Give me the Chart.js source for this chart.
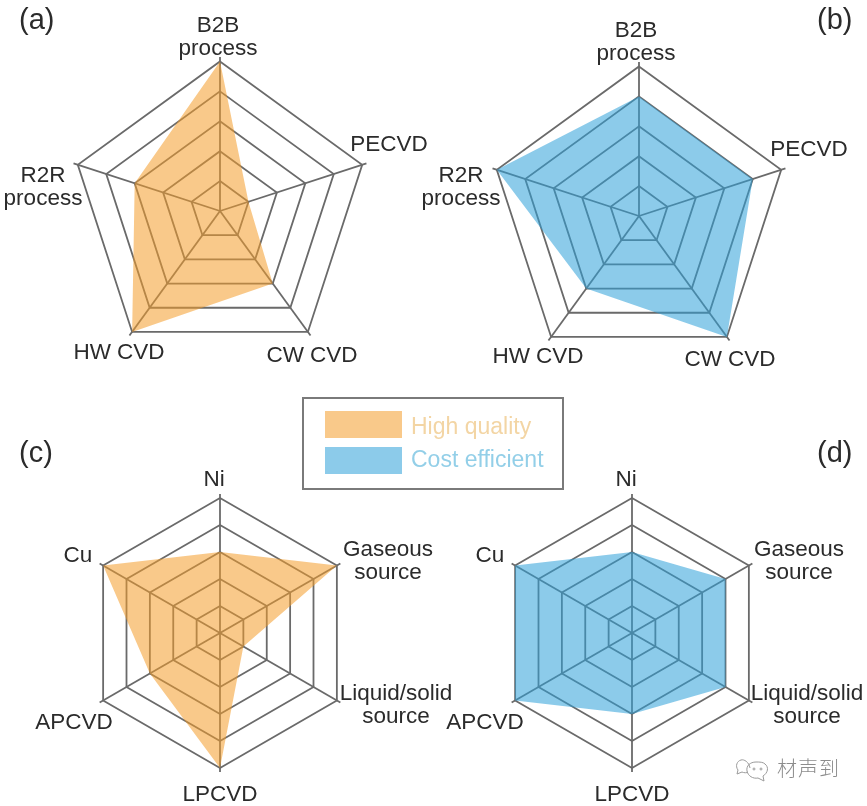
<!DOCTYPE html>
<html lang="en">
<head>
  <meta charset="UTF-8">
  <title>Radar charts</title>
  <script src="https://cdn.jsdelivr.net/npm/chart.js"></script>
  <style>
    html, body { margin: 0; padding: 0; background: #fff; }
    body { position: relative; width: 867px; height: 806px; overflow: hidden; font-family: "Liberation Sans", Arial, sans-serif; }
    canvas { position: absolute; left: 0; top: 0; }
    .letter { position: absolute; font-size: 29px; line-height: 32px; color: #2b2b2b; }
    #legend { position: absolute; left: 302px; top: 397px; width: 258px; height: 89px; border: 2px solid #7a7a7a; }
    .swatch { position: absolute; left: 21px; width: 77px; height: 27px; }
    .entry { position: absolute; left: 107px; font-size: 23px; line-height: 26px; white-space: nowrap; }
    #mark { position: absolute; left: 777px; top: 753px; font-family: "Noto Sans CJK SC"; font-weight: 300; font-size: 20px; line-height: 30px; letter-spacing: 1px; color: #8c8c8c; }
    #markIcon { position: absolute; left: 736px; top: 755px; }
  </style>
</head>
<body>
  <canvas id="chartA" width="867" height="806"></canvas>
  <canvas id="chartB" width="867" height="806"></canvas>
  <canvas id="chartC" width="867" height="806"></canvas>
  <canvas id="chartD" width="867" height="806"></canvas>

  <div class="letter" style="left:19px;top:3px">(a)</div>
  <div class="letter" style="left:817px;top:3px">(b)</div>
  <div class="letter" style="left:19px;top:436px">(c)</div>
  <div class="letter" style="left:817px;top:436px">(d)</div>

  <div id="legend"></div>

  <svg id="markIcon" width="36" height="28" viewBox="0 0 36 28" fill="none" stroke="#9a9a9a" stroke-width="1">
    <path d="M14 13 C13 7 8 4 5 5 C1 6 -1 11 2 15 L1 19 L6 17 C8 18 11 18 12 17"/>
    <path d="M20 7 C14 7 10 11 11 16 C12 21 17 24 22 23 L28 26 L27 21 C32 18 33 12 29 9 C27 7 24 7 20 7 Z"/>
    <circle cx="18" cy="14" r="1"/>
    <circle cx="25" cy="14" r="1"/>
  </svg>
  <div id="mark">材声到</div>

  <script>
    // values, in rings (0 to 5)
    const categoriesAB = [['B2B', 'process'], ['PECVD'], ['CW CVD'], ['HW CVD'], ['R2R', 'process']];
    const categoriesCD = [['Ni'], ['Gaseous', 'source'], ['Liquid/solid', 'source'], ['LPCVD'], ['APCVD'], ['Cu']];
    const valuesA = [5, 1, 3, 5, 3];
    const valuesB = [4, 4, 5, 3, 5];
    const valuesC = [3, 5, 1, 5, 3, 5];
    const valuesD = [3, 4, 4, 3, 5, 5];
    const seriesNames = ['High quality', 'Cost efficient'];

    const orange = 'rgba(244,157,42,0.55)';
    const blue = 'rgba(46,160,217,0.55)';
    const gridColor = '#6a6a6a';
    const textColor = '#2b2b2b';

    // where each category label goes: x centre, y of first baseline
    const labelsPosA = [[218, 32], [389, 151], [312, 362], [119, 359], [43, 182]];
    const labelsPosB = [[636, 37], [809, 156], [730, 366], [538, 363], [461, 182]];
    const labelsPosC = [[214, 486], [388, 556], [396, 700], [220, 801], [74, 729], [78, 562]];
    const labelsPosD = [[626, 486], [799, 556], [807, 700], [632, 801], [485, 729], [490, 562]];

    // the radial scale does not place labels where the figure has them
    const axisLabels = {
      id: 'axisLabels',
      afterDraw(chart, args, opts) {
        const ctx = chart.ctx;
        ctx.save();
        ctx.font = '22.5px "Liberation Sans"';
        ctx.fillStyle = textColor;
        ctx.textAlign = 'center';
        ctx.textBaseline = 'alphabetic';
        chart.data.labels.forEach((lines, i) => {
          lines.forEach((line, j) => {
            ctx.fillText(line, opts.pos[i][0], opts.pos[i][1] + j * 23);
          });
        });
        ctx.restore();
      }
    };

    function makeRadar(id, labels, values, name, color, pos, cx, cy, area) {
      new Chart(document.getElementById(id), {
        type: 'radar',
        data: {
          labels: labels,
          datasets: [{
            label: name,
            data: values,
            backgroundColor: color,
            borderWidth: 0,
            pointRadius: 0,
            fill: true
          }]
        },
        options: {
          responsive: false,
          animation: false,
          layout: {
            padding: { left: cx - area, right: 867 - cx - area, top: cy - area, bottom: 806 - cy - area }
          },
          plugins: {
            legend: { display: false },
            tooltip: { enabled: false },
            axisLabels: { pos: pos }
          },
          scales: {
            r: {
              min: 0,
              max: 5.15, // spokes stick out a little past the outer ring
              ticks: { display: false, stepSize: 1, includeBounds: false },
              pointLabels: { display: false },
              grid: { color: gridColor, lineWidth: 1.8 },
              angleLines: { color: gridColor, lineWidth: 1.8 },
              border: { display: false }
            }
          }
        },
        plugins: [axisLabels]
      });
    }

    makeRadar('chartA', categoriesAB, valuesA, seriesNames[0], orange, labelsPosA, 220, 211.7, 154);
    makeRadar('chartB', categoriesAB, valuesB, seriesNames[1], blue, labelsPosB, 639.3, 216.7, 154);
    makeRadar('chartC', categoriesCD, valuesC, seriesNames[0], orange, labelsPosC, 220.7, 633.3, 139);
    makeRadar('chartD', categoriesCD, valuesD, seriesNames[1], blue, labelsPosD, 632.7, 633.3, 139);

    // legend box
    const legend = document.getElementById('legend');
    const swatchColors = ['#f9c98a', '#8ccbea'];
    const entryColors = ['#f3d5a4', '#93cfe8'];
    seriesNames.forEach((name, i) => {
      const swatch = document.createElement('div');
      swatch.className = 'swatch';
      swatch.style.top = (12 + i * 36) + 'px';
      swatch.style.background = swatchColors[i];
      legend.appendChild(swatch);
      const entry = document.createElement('div');
      entry.className = 'entry';
      entry.style.top = (14 + i * 33) + 'px';
      entry.style.color = entryColors[i];
      entry.textContent = name;
      legend.appendChild(entry);
    });
  </script>
</body>
</html>
